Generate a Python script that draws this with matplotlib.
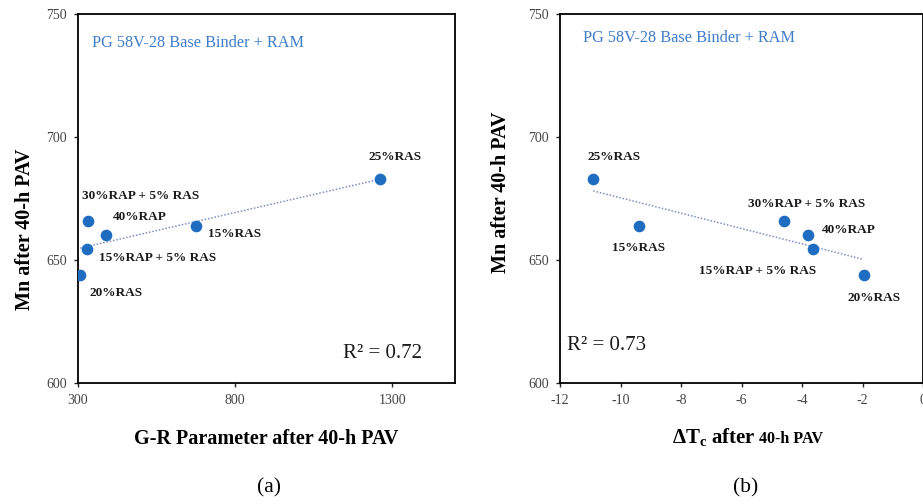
import numpy as np
import matplotlib
matplotlib.use("Agg")
import matplotlib.pyplot as plt

plt.rcParams["font.family"] = ["Liberation Serif", "DejaVu Serif"]
plt.rcParams["mathtext.fontset"] = "custom"
plt.rcParams["mathtext.rm"] = "Liberation Serif"
plt.rcParams["mathtext.bf"] = "Liberation Serif:bold"
plt.rcParams["mathtext.it"] = "Liberation Serif:italic"
plt.rcParams["axes.unicode_minus"] = False

# Binder blends
blends = ["25%RAS", "15%RAS", "30%RAP + 5% RAS", "40%RAP", "15%RAP + 5% RAS", "20%RAS"]
# Mn after 40-h PAV
mn_values = [683, 664, 666, 660, 654.5, 644]
# G-R parameter after 40-h PAV
gr_values = [1262, 675, 331, 389, 328, 307]
# Delta Tc after 40-h PAV
dtc_values = [-10.9, -9.39, -4.6, -3.81, -3.63, -1.96]

binder_note = "PG 58V-28 Base Binder + RAM"

# label offsets (pixels) and horizontal alignment for each blend, per panel
offsets_a = {
    "25%RAS": (15, 22, "center"),
    "15%RAS": (12, -8, "left"),
    "30%RAP + 5% RAS": (-6, 25, "left"),
    "40%RAP": (7, 18, "left"),
    "15%RAP + 5% RAS": (12, -9, "left"),
    "20%RAS": (9, -18, "left"),
}
offsets_b = {
    "25%RAS": (-6, 22, "left"),
    "15%RAS": (-27, -22, "left"),
    "30%RAP + 5% RAS": (-36, 17, "left"),
    "40%RAP": (14, 5, "left"),
    "15%RAP + 5% RAS": (-114, -22, "left"),
    "20%RAS": (-16, -23, "left"),
}

W, H, DPI = 923, 504, 100
fig = plt.figure(figsize=(W / DPI, H / DPI), dpi=DPI)

def px_axes(x0, x1, y0, y1):
    return fig.add_axes([x0 / W, 1 - y1 / H, (x1 - x0) / W, (y1 - y0) / H])

ax_a = px_axes(78, 455, 14, 383)
ax_b = px_axes(560, 923, 14, 383)

marker_color = "#1F6DC0"
note_color = "#3D7CC9"
trend_color = "#7F8FC8"


def draw_panel(ax, xs, xlim, xticks, offsets, r2_text, r2_pos, note_pos, ylab_pos):
    xs = np.asarray(xs, dtype=float)
    ys = np.asarray(mn_values, dtype=float)
    # linear trendline
    slope, intercept = np.polyfit(xs, ys, 1)
    xt = np.array([xs.min(), xs.max()])
    ax.plot(xt, slope * xt + intercept, linestyle=(0, (1, 1.2)), color=trend_color,
            linewidth=1.1, zorder=2)
    ax.plot(xs, ys, "o", color=marker_color, markersize=8.4, markeredgewidth=0, zorder=3)
    for name, x, y in zip(blends, xs, ys):
        dx, dy, ha = offsets[name]
        ax.annotate(name, (x, y), xytext=(dx, dy), textcoords="offset pixels",
                    ha=ha, va="center", fontsize=9.5, fontweight="bold", color="#1a1a1a")
    ax.set_xlim(*xlim)
    ax.set_ylim(600, 750)
    ax.set_xticks(xticks)
    ax.set_yticks([600, 650, 700, 750])
    ax.tick_params(direction="out", length=3, width=1, labelsize=10, colors="#222222",
                   labelcolor="#444444", pad=5)
    for s in ax.spines.values():
        s.set_linewidth(1.3)
        s.set_color("black")
    ax.set_ylabel("Mn after 40-h PAV", fontsize=14.5, fontweight="bold")
    ax.yaxis.set_label_coords(*ylab_pos)
    ax.text(r2_pos[0], r2_pos[1], r2_text, transform=ax.transAxes, fontsize=15,
            ha="left", va="center", color="#1a1a1a")
    ax.text(note_pos[0], note_pos[1], binder_note, transform=ax.transAxes, fontsize=11.7,
            ha="left", va="center", color=note_color)


draw_panel(ax_a, gr_values, (300, 1500), [300, 800, 1300], offsets_a,
           "R² = 0.72", ((343 - 78) / 377, 1 - (354 - 14) / 369),
           ((92 - 78) / 377, 1 - (43 - 14) / 369),
           ((35 - 78) / 377, (383 - 229) / 369))
draw_panel(ax_b, dtc_values, (-12, 0), [-12, -10, -8, -6, -4, -2, 0], offsets_b,
           "R² = 0.73", ((567 - 560) / 363, 1 - (345 - 14) / 369),
           ((583 - 560) / 363, 1 - (38 - 14) / 369),
           ((511 - 560) / 363, (383 - 192) / 369))

ax_a.set_xlabel("G-R Parameter after 40-h PAV", fontsize=14.5, fontweight="bold", labelpad=16)

# composite x label for panel (b): large "ΔTc after" followed by smaller "40-h PAV"
base_y = 1 - 443 / H
t1 = fig.text(0, base_y, r"$\mathbf{\Delta T_c}$ after", fontsize=15, fontweight="bold",
              ha="left", va="baseline")
t2 = fig.text(0, base_y, "40-h PAV", fontsize=11.5, fontweight="bold", ha="left", va="baseline")
fig.canvas.draw()
r = fig.canvas.get_renderer()
w1 = t1.get_window_extent(r).width
w2 = t2.get_window_extent(r).width
gap = 4
total = w1 + gap + w2
cx = 747.5
x_start = cx - total / 2
t1.set_x(x_start / W)
t2.set_x((x_start + w1 + gap) / W)

# panel captions
fig.text(269 / W, 1 - 488 / H, "(a)", fontsize=15.5, ha="center", va="center")
fig.text(746 / W, 1 - 488 / H, "(b)", fontsize=15.5, ha="center", va="center")

fig.savefig("out.png", dpi=DPI)
